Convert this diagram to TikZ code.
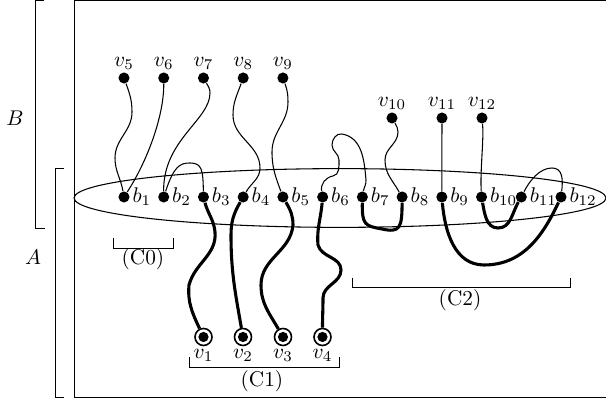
\documentclass[tikz,border=0pt]{standalone}
\begin{document}
\begin{tikzpicture}[x=0.47pt,y=-0.47pt,
  dot/.style={circle,fill,inner sep=0pt,minimum size=5.2pt},
  vout/.style={circle,draw,fill=white,line width=0.75pt,inner sep=0pt,minimum size=8pt,
    path picture={\fill[black] (path picture bounding box.center) circle (2.4pt);}},
  lb/.style={inner sep=1pt},
  thinwire/.style={line width=0.5pt},
  thickwire/.style={line width=1.45pt},
  brk/.style={line width=0.45pt}]
\useasboundingbox (0,0) rectangle (606,402);
% frame
\draw[brk] (607,0.4) -- (74,0.4) -- (74,397) -- (607,397);
% brackets A and B
\draw[brk] (44,0.4) -- (35,0.4) -- (35,228) -- (45,228);
\draw[brk] (64,168) -- (55,168) -- (55,397) -- (64,397);
\node (labB) at (15,118) {$B$};
\node (labA) at (33,257) {$A$};
% ellipse
\draw[thinwire] (340,198) ellipse [x radius=125pt, y radius=13.8pt];
% C brackets
\draw[brk] (113,238) -- (113,248) -- (173,248) -- (173,238);
\node (c0) at (143,259) {(C0)};
\draw[brk] (189,357) -- (189,367) -- (339,367) -- (339,357);
\node (c1) at (262,381) {(C1)};
\draw[brk] (352,278) -- (352,287) -- (570,287) -- (570,278);
\node (c2) at (460,300) {(C2)};
% nodes
\foreach \i in {1,...,12}
  \node[dot,label={[lb]right:$b_{\i}$}] (b\i) at ({124+(\i-1)*39.73},197) {};
\foreach \i in {5,...,9}
  \node[dot,label={[lb]above:$v_{\i}$}] (v\i) at ({124+(\i-5)*39.73},78) {};
\node[dot,label={[lb]above:$v_{10}$}] (v10) at (392,118) {};
\node[dot,label={[lb]above:$v_{11}$}] (v11) at (442,118) {};
\node[dot,label={[lb]above:$v_{12}$}] (v12) at (482,118) {};
\node[vout,label={[lb]below:$v_1$}] (v1) at (203.5,337) {};
\node[vout,label={[lb]below:$v_2$}] (v2) at (243,337) {};
\node[vout,label={[lb]below:$v_3$}] (v3) at (283,337) {};
\node[vout,label={[lb]below:$v_4$}] (v4) at (322.5,337) {};
% thin wires
\draw[thinwire] (v5) to[out=290,in=90] (132,112) to[out=270,in=90] (115,158) to[out=270,in=100] (b1);
\draw[thinwire] (v6) .. controls (164,115) and (148,160) .. (b1);
\draw[thinwire] (v7) to[out=300,in=90] (210,93) .. controls (210,120) and (163,140) .. (b2);
\draw[thinwire] (b2) .. controls (174,166) and (180,163) .. (190,163) .. controls (202,163) and (203,170) .. (b3);
\draw[thinwire] (v8) to[out=250,in=90] (233,115) to[out=270,in=90] (260,168) to[out=270,in=60] (b4);
\draw[thinwire] (v9) to[out=290,in=90] (288,102) to[out=270,in=90] (272,152) to[out=270,in=110] (b5);
\draw[thinwire] (b6) to[out=100,in=190] (333,176) to[out=10,in=270] (339,160) to[out=90,in=270] (332,145)
   to[out=90,in=170] (342,134) to[out=-10,in=95] (366,180) to[out=275,in=80] (b7);
\draw[thinwire] (v10) to[out=300,in=90] (398,132) to[out=270,in=90] (385,160) to[out=270,in=120] (b8);
\draw[thinwire] (v11) -- (b9);
\draw[thinwire] (v12) .. controls (484,140) and (480,170) .. (b10);
\draw[thinwire] (b11) .. controls (530,180) and (540,168) .. (552,168) .. controls (563,168) and (563,180) .. (b12);
% thick wires
\draw[thickwire] (b3) to[out=285,in=95] (215,232) to[out=275,in=75] (189,285) to[out=265,in=115] (v1);
\draw[thickwire] (b4) to[out=240,in=90] (231,235) to[out=270,in=100] (v2);
\draw[thickwire] (b5) to[out=300,in=90] (293,225) to[out=265,in=90] (261,285) to[out=270,in=120] (v3);
\draw[thickwire] (b6) to[out=265,in=95] (318,245) to[out=285,in=90] (341,270) to[out=270,in=90] (323,298) to[out=270,in=90] (v4);
\draw[thickwire] (b7) .. controls (362,225) and (365,226) .. (382,229) .. controls (400,233) and (402,228) .. (b8);
\draw[thickwire] (b9) to[out=275,in=180] (484,265) to[out=0,in=245] (b12);
\draw[thickwire] (b10) to[out=280,in=180] (498,228) to[out=0,in=240] (b11);
\end{tikzpicture}
\end{document}
